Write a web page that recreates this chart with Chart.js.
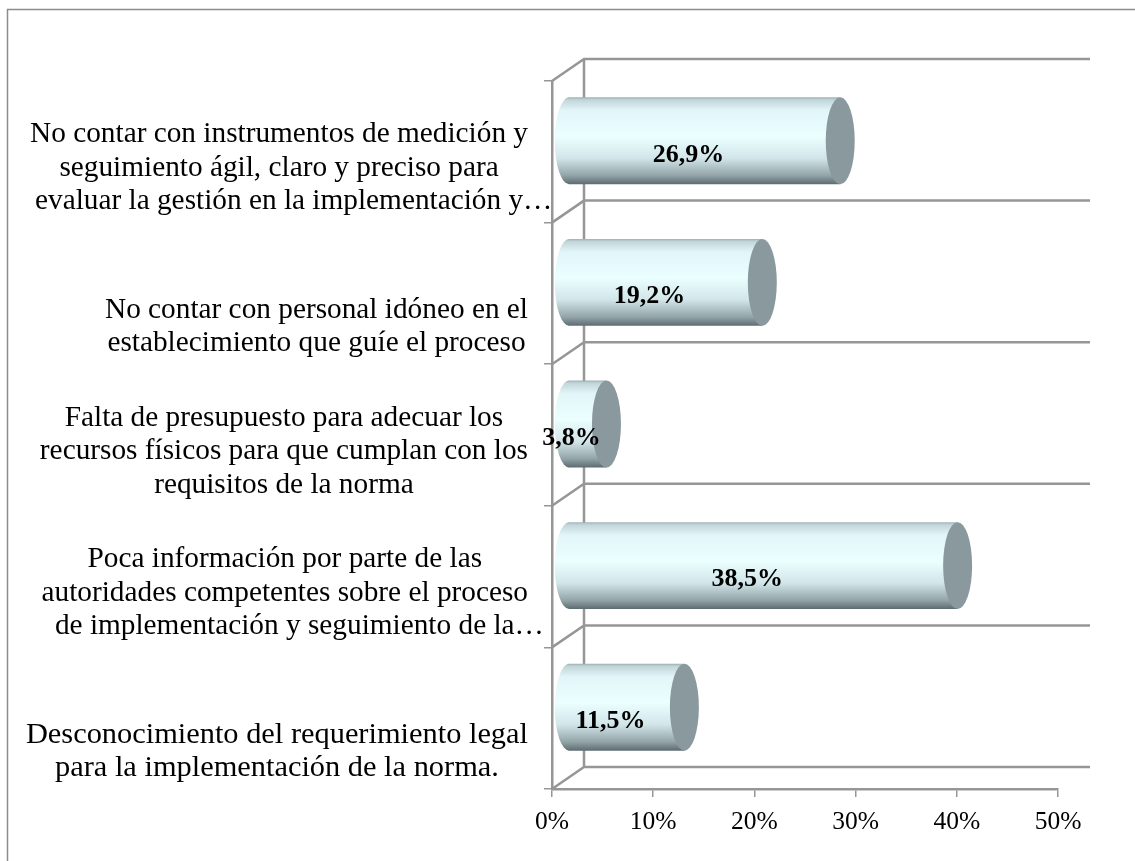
<!DOCTYPE html>
<html>
<head>
<meta charset="utf-8">
<style>
  html, body { margin: 0; padding: 0; background: #fff; }
  canvas { display: block; }
</style>
<script src="https://cdn.jsdelivr.net/npm/chart.js@4"></script>
</head>
<body>
<canvas id="chart" width="1135" height="861"></canvas>
<script>
// Labels as they are broken and clipped in the picture
const categories = [
    ['No contar con instrumentos de medición y', 'seguimiento ágil, claro y preciso para', 'evaluar la gestión en la implementación y…'],
    ['No contar con personal idóneo en el', 'establecimiento que guíe el proceso'],
    ['Falta de presupuesto para adecuar los', 'recursos físicos para que cumplan con los', 'requisitos de la norma'],
    ['Poca información por parte de las', 'autoridades competentes sobre el proceso', 'de implementación y seguimiento de la…'],
    ['Desconocimiento del requerimiento legal', 'para la implementación de la norma.']
];
const values = [26.9, 19.2, 3.8, 38.5, 11.5];
const axisMax = 50;
const axisStep = 10;

const GRID = '#969696';
const SERIF = '"Liberation Serif", "Times New Roman", serif';
const DEPTH_X = 32, DEPTH_Y = 22;   // offset of the back wall from the front plane
const CAP_RX = 14.5;                // half width of the cylinder ends

function barGradient(ctx, top, bottom) {
    const g = ctx.createLinearGradient(0, top, 0, bottom);
    g.addColorStop(0, '#9db0b4');
    g.addColorStop(0.03, '#c2d6da');
    g.addColorStop(0.15, '#e2f5f8');
    g.addColorStop(0.45, '#ebffff');
    g.addColorStop(0.7, '#d2e5e9');
    g.addColorStop(0.9, '#92a4a8');
    g.addColorStop(1, '#5c6b6f');
    return g;
}

const cylinder3d = {
    id: 'cylinder3d',
    beforeDraw(chart) {
        // outer frame, only top and left show in the picture
        const c = chart.ctx;
        c.save();
        c.strokeStyle = '#8c8c8c';
        c.lineWidth = 1.5;
        c.beginPath();
        c.moveTo(7.5, 861);
        c.lineTo(7.5, 9.5);
        c.lineTo(1135, 9.5);
        c.stroke();
        c.restore();
    },
    beforeDatasetsDraw(chart) {
        // back wall and the depth lines
        const c = chart.ctx, a = chart.chartArea, y = chart.scales.y;
        c.save();
        c.strokeStyle = GRID;
        c.lineWidth = 2.5;
        c.beginPath();
        c.moveTo(a.left + DEPTH_X, a.top - DEPTH_Y);
        c.lineTo(a.left + DEPTH_X, a.bottom - DEPTH_Y);
        for (let i = 0; i <= categories.length; i++) {
            const py = y.getPixelForValue(i - 0.5);
            c.moveTo(a.left, py);
            c.lineTo(a.left + DEPTH_X, py - DEPTH_Y);
            c.lineTo(a.right + DEPTH_X, py - DEPTH_Y);
        }
        c.stroke();
        c.restore();
    },
    beforeDatasetDraw(chart, args) {
        // move the bars to mid depth, and round off their left side
        const c = chart.ctx;
        c.save();
        c.translate(DEPTH_X / 2, -DEPTH_Y / 2);
        args.meta.data.forEach(bar => {
            const r = bar.height / 2;
            c.fillStyle = barGradient(c, bar.y - r, bar.y + r);
            c.beginPath();
            c.ellipse(bar.base + 0.5, bar.y, CAP_RX, r, 0, Math.PI / 2, Math.PI * 1.5);
            c.fill();
        });
    },
    afterDatasetDraw(chart, args) {
        const c = chart.ctx;
        args.meta.data.forEach(bar => {
            c.fillStyle = '#8a999d';
            c.beginPath();
            c.ellipse(bar.x, bar.y, CAP_RX, bar.height / 2, 0, 0, Math.PI * 2);
            c.fill();
        });
        c.restore();
    },
    afterDraw(chart) {
        const c = chart.ctx, y = chart.scales.y;
        c.save();
        c.fillStyle = '#000';

        // category labels: block sits against the axis, lines centred inside it
        c.textBaseline = 'middle';
        c.textAlign = 'left';
        const labelRight = chart.chartArea.left - 24;
        categories.forEach((lines, i) => {
            // the last label comes out a little wider than the others
            c.font = (i === categories.length - 1 ? 30.4 : 29.3) + 'px ' + SERIF;
            const widths = lines.map(l => c.measureText(l.replace('…', '')).width);
            const center = labelRight - Math.max(...widths) / 2;
            const lastY = y.getPixelForValue(i) + 50;
            lines.forEach((line, j) => {
                c.fillText(line, center - widths[j] / 2, lastY - (lines.length - 1 - j) * 33.5);
            });
        });

        // value labels sit on the front plane
        c.font = 'bold 26px ' + SERIF;
        c.textAlign = 'center';
        chart.getDatasetMeta(0).data.forEach((bar, i) => {
            const text = values[i].toFixed(1).replace('.', ',') + '%';
            c.fillText(text, (bar.base + bar.x) / 2, bar.y + 3);
        });
        c.restore();
    }
};

new Chart(document.getElementById('chart'), {
    type: 'bar',
    data: {
        labels: categories.map(l => l.join(' ')),
        datasets: [{
            data: values,
            backgroundColor: ctx => {
                const yScale = ctx.chart.scales.y;
                if (!yScale || !ctx.chart.chartArea) return '#d9eef2';
                const py = yScale.getPixelForValue(ctx.dataIndex);
                const r = (yScale.height / categories.length) * 0.614 / 2;
                return barGradient(ctx.chart.ctx, py - r, py + r);
            },
            barPercentage: 0.614,
            categoryPercentage: 1,
            borderWidth: 0
        }]
    },
    options: {
        indexAxis: 'y',
        responsive: false,
        animation: false,
        layout: { padding: { top: 81, right: 77, left: 0, bottom: 0 } },
        plugins: { legend: { display: false }, tooltip: { enabled: false } },
        scales: {
            x: {
                min: 0,
                max: axisMax,
                afterFit: s => { s.height = 72; },
                border: { color: GRID, width: 2.5 },
                grid: { drawOnChartArea: false, color: GRID, lineWidth: 1.5, tickLength: 8 },
                ticks: {
                    stepSize: axisStep,
                    color: '#000',
                    padding: 10,
                    font: { family: SERIF, size: 25.5 },
                    maxRotation: 0,
                    callback: v => v + '%'
                }
            },
            y: {
                afterFit: s => { s.width = 552; },
                border: { color: GRID, width: 2.5 },
                grid: { drawOnChartArea: false, color: GRID, lineWidth: 1.5, tickLength: 8, offset: true },
                ticks: { display: false }
            }
        }
    },
    plugins: [cylinder3d]
});
</script>
</body>
</html>
